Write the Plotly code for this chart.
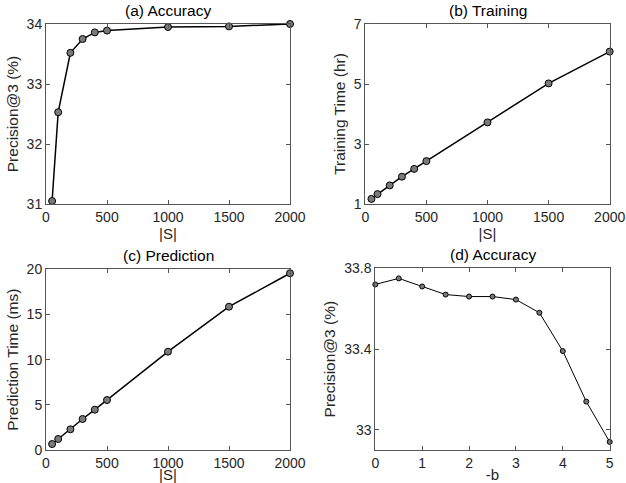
import plotly.graph_objects as go

# ---- data ----
s_sizes = [50, 100, 200, 300, 400, 500, 1000, 1500, 2000]
acc_a = [31.05, 32.53, 33.52, 33.75, 33.86, 33.89, 33.95, 33.96, 34.0]
train_hr = [1.17, 1.33, 1.62, 1.91, 2.17, 2.43, 3.72, 5.02, 6.08]
pred_ms = [0.66, 1.22, 2.29, 3.43, 4.46, 5.53, 10.88, 15.86, 19.56]
neg_b = [0, 0.5, 1, 1.5, 2, 2.5, 3, 3.5, 4, 4.5, 5]
acc_d = [33.72, 33.75, 33.71, 33.67, 33.66, 33.66, 33.645, 33.58, 33.39, 33.14, 32.94]

titles = ["(a) Accuracy", "(b) Training", "(c) Prediction", "(d) Accuracy"]
ylabels = ["Precision@3 (%)", "Training Time (hr)", "Prediction Time (ms)", "Precision@3 (%)"]
xlabels = ["|S|", "|S|", "|S|", "-b"]

W, H = 626, 483
FONT = "Liberation Sans, Arial, Helvetica, sans-serif"

# panel boxes in pixels: left, right, top, bottom
boxes = [
    (46, 290, 24, 204),
    (365.3, 609.7, 24, 204),
    (46, 290, 269.3, 450),
    (375.3, 609.7, 268.3, 450),
]

fig = go.Figure()

series = [
    (s_sizes, acc_a, 7, 1.5),
    (s_sizes, train_hr, 7, 1.5),
    (s_sizes, pred_ms, 7, 1.5),
    (neg_b, acc_d, 5, 1.0),
]

xranges = [[0, 2000], [0, 2000], [0, 2000], [0, 5]]
yranges = [[31, 34], [1, 7], [0, 20], [32.9, 33.8]]
xticks = [[0, 500, 1000, 1500, 2000]] * 3 + [[0, 1, 2, 3, 4, 5]]
yticks = [[31, 32, 33, 34], [1, 3, 5, 7], [0, 5, 10, 15, 20], [33, 33.4, 33.8]]
ytext = [None, None, None, ["33", "33.4", "33.8"]]

for i, (xs, ys, msize, lw) in enumerate(series):
    n = "" if i == 0 else str(i + 1)
    fig.add_trace(go.Scatter(
        x=xs, y=ys, mode="lines+markers",
        line=dict(color="black", width=lw),
        marker=dict(symbol="circle", size=msize, color="#7a7a7a",
                    line=dict(color="black", width=1)),
        xaxis="x" + n, yaxis="y" + n, showlegend=False, cliponaxis=False,
        hoverinfo="skip",
    ))
    l, r, t, b = boxes[i]
    axcommon = dict(
        showline=True, linecolor="#555555", linewidth=1, mirror="ticks",
        ticks="inside", ticklen=4, tickcolor="#555555", tickwidth=1,
        showgrid=False, zeroline=False, automargin=False, fixedrange=True,
        tickfont=dict(family=FONT, size=14, color="#262626"),
    )
    fig.layout["xaxis" + n] = dict(
        axcommon, domain=[l / W, r / W], range=xranges[i], anchor="y" + n,
        tickvals=xticks[i],
        title=dict(text=xlabels[i], font=dict(family=FONT, size=15, color="#262626"), standoff=1),
    )
    yd = dict(
        axcommon, domain=[1 - b / H, 1 - t / H], range=yranges[i], anchor="x" + n,
        tickvals=yticks[i],
        title=dict(text=ylabels[i], font=dict(family=FONT, size=15.5, color="#262626"), standoff=4),
    )
    if ytext[i]:
        yd["ticktext"] = ytext[i]
    fig.layout["yaxis" + n] = yd
    fig.add_annotation(
        text=titles[i], x=(l + r) / 2 / W, y=1 - (t - 3) / H, xref="paper", yref="paper",
        xanchor="center", yanchor="bottom", showarrow=False,
        font=dict(family=FONT, size=15.5, color="black"),
    )

fig.update_layout(
    width=W, height=H, margin=dict(l=0, r=0, t=0, b=0),
    paper_bgcolor="white", plot_bgcolor="white", hovermode=False,
)

fig.write_html(
    "out.html",
    config={"displayModeBar": False, "staticPlot": True},
    post_script="document.body.style.margin='0';document.body.style.overflow='hidden';",
)
